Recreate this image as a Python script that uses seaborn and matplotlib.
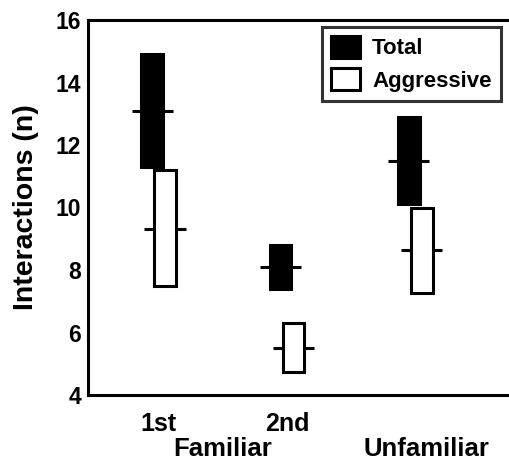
import numpy as np
import pandas as pd
import matplotlib
matplotlib.use('agg')
import matplotlib.pyplot as plt
from matplotlib.patches import Patch
import seaborn as sns

# values (range low/high and mean per group)
groups = ['1st', '2nd', 'Unfamiliar']
total_low = [11.3, 7.4, 10.1]
total_high = [14.9, 8.8, 12.9]
total_mean = [13.1, 8.1, 11.5]
aggr_low = [7.5, 4.75, 7.25]
aggr_high = [11.2, 6.3, 10.0]
aggr_mean = [9.3, 5.5, 8.65]
series = ['Total', 'Aggressive']
series_fill = ['black', 'white']

sns.set_style('white')
plt.rcParams['font.family'] = ['Liberation Sans', 'DejaVu Sans']
plt.rcParams['font.weight'] = 'bold'
plt.rcParams['text.color'] = 'black'
plt.rcParams['axes.labelcolor'] = 'black'
plt.rcParams['xtick.color'] = 'black'
plt.rcParams['ytick.color'] = 'black'

fig = plt.figure(figsize=(5.09, 4.62), dpi=100)
ax = fig.add_axes([88 / 509, 67 / 462, 421 / 509, 375 / 462])

pos = np.arange(len(groups))
offset = 0.05
bw = 0.168
lw = 2.2

for i, (name, fill) in enumerate(zip(series, series_fill)):
    low = total_low if i == 0 else aggr_low
    high = total_high if i == 0 else aggr_high
    mean = total_mean if i == 0 else aggr_mean
    x = pos + (offset if i else -offset)
    df = pd.DataFrame({'x': x, 'h': np.array(high) - np.array(low)})
    sns.barplot(data=df, x='x', y='h', bottom=low, native_scale=True,
                width=bw / np.diff(x).min(), color=fill, saturation=1,
                edgecolor='black', linewidth=lw, ax=ax, errorbar=None, zorder=2)
    ax.hlines(mean, x - 0.16, x + 0.16, colors='black', linewidth=lw, zorder=0.5)

ax.set_xlim(-0.55, 2.73)
ax.set_ylim(4, 16)
ax.set_yticks([4, 6, 8, 10, 12, 14, 16])
ax.set_xticks([0, 1])
ax.set_xticklabels(['1st', '2nd'])
ax.tick_params(axis='y', length=0, labelsize=16.5, pad=5)
ax.tick_params(axis='x', length=0, labelsize=18, pad=12)
ax.set_xlabel('')
ax.set_ylabel('Interactions (n)', fontsize=20.5, fontweight='bold', labelpad=12)
for lab in ax.get_yticklabels() + ax.get_xticklabels():
    lab.set_fontweight('bold')

trans = ax.get_xaxis_transform()
ax.text(0.50, -0.113, 'Familiar', transform=trans, ha='center', va='top',
        fontsize=18.5, fontweight='bold')
ax.text(2.085, -0.113, 'Unfamiliar', transform=trans, ha='center', va='top',
        fontsize=18.5, fontweight='bold')

for side in ['left', 'bottom', 'top']:
    ax.spines[side].set_linewidth(lw)
    ax.spines[side].set_color('black')
ax.spines['right'].set_visible(False)

handles = [Patch(facecolor=c, edgecolor='black', linewidth=lw, label=s)
           for s, c in zip(series, series_fill)]
leg = ax.legend(handles=handles, loc='upper right', bbox_to_anchor=(0.98, 0.982),
                fontsize=16, frameon=True, fancybox=False, handlelength=1.3,
                handleheight=1.15, handletextpad=0.55, borderpad=0.4,
                labelspacing=0.4, borderaxespad=0, edgecolor='black')
leg.get_frame().set_linewidth(lw)
for t in leg.get_texts():
    t.set_fontweight('bold')

fig.savefig('out.png', dpi=100)
